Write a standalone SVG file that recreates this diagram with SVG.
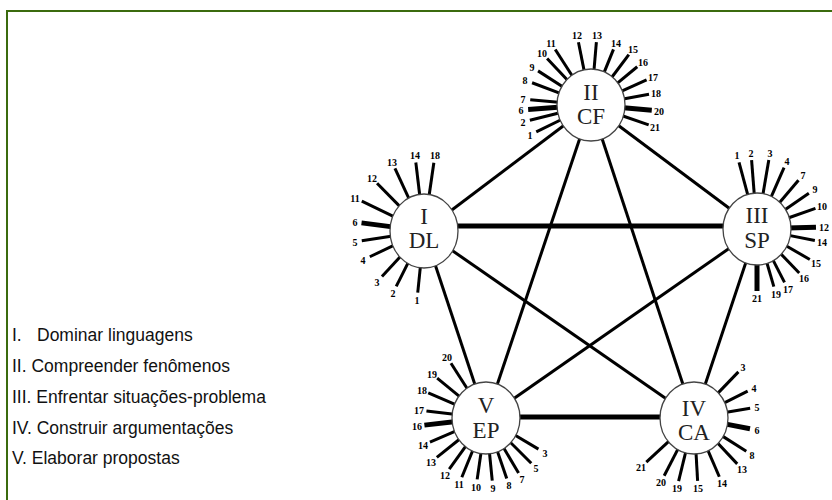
<svg xmlns="http://www.w3.org/2000/svg" width="832" height="500" viewBox="0 0 832 500">
<style>
.frame{fill:none;stroke:#3b6b0e;stroke-width:2}
.conn line{stroke:#000;stroke-width:3;stroke-linecap:butt}
.conn line.thick{stroke-width:5}
.spk line{stroke:#000;stroke-width:3}
.spk line.t{stroke-width:5}
.ring{fill:#fff;stroke:#444;stroke-width:1.3}
.num,.abbr{font-family:"Liberation Serif","Times New Roman",serif;font-size:23px;fill:#222;text-anchor:middle}
.lbl{font-family:"Liberation Serif","Times New Roman",serif;font-size:10px;font-weight:bold;fill:#000;text-anchor:middle;dominant-baseline:central}
.leg{font-family:"Liberation Sans",Arial,sans-serif;font-size:17.5px;fill:#111}
</style>
<rect width="832" height="500" fill="#fff"/>
<path class="frame" d="M7,501 V11 H833"/>

<g id="legend">
<text class="leg" x="12" y="341">I.</text>
<text class="leg" x="37" y="341">Dominar linguagens</text>
<text class="leg" x="12" y="372">II. Compreender fenômenos</text>
<text class="leg" x="12" y="403">III. Enfrentar situações-problema</text>
<text class="leg" x="12" y="434">IV. Construir argumentações</text>
<text class="leg" x="12" y="464">V. Elaborar propostas</text>
</g>

<g id="connectors" class="conn">
<line x1="424" y1="231" x2="591" y2="105"/>
<line x1="591" y1="105" x2="757" y2="229"/>
<line class="thick" x1="424" y1="226" x2="757" y2="226"/>
<line x1="424" y1="231" x2="486" y2="418"/>
<line x1="424" y1="231" x2="694" y2="418"/>
<line x1="591" y1="105" x2="486" y2="418"/>
<line x1="591" y1="105" x2="694" y2="418"/>
<line x1="757" y1="229" x2="486" y2="418"/>
<line x1="757" y1="229" x2="694" y2="418"/>
<line class="thick" x1="486" y1="417" x2="694" y2="417"/>
</g>

<g id="node-cf" transform="translate(591,105)">
<g class="spk">
<line x1="30" x2="61" transform="rotate(153.8)"/>
<line x1="30" x2="63" transform="rotate(166)"/>
<line class="t" x1="30" x2="63" transform="rotate(176)"/>
<line x1="30" x2="61" transform="rotate(185)"/>
<line x1="30" x2="63" transform="rotate(200.7)"/>
<line x1="30" x2="63" transform="rotate(212.8)"/>
<line x1="30" x2="64" transform="rotate(226.7)"/>
<line x1="30" x2="66" transform="rotate(237.2)"/>
<line x1="30" x2="64" transform="rotate(258.7)"/>
<line x1="30" x2="63" transform="rotate(274.9)"/>
<line x1="30" x2="60" transform="rotate(292)"/>
<line x1="30" x2="63" transform="rotate(306.9)"/>
<line x1="30" x2="60" transform="rotate(320.4)"/>
<line x1="30" x2="61" transform="rotate(335.7)"/>
<line x1="30" x2="59" transform="rotate(349.5)"/>
<line class="t" x1="30" x2="61" transform="rotate(5)"/>
<line x1="30" x2="61" transform="rotate(19)"/>
</g>
<ellipse class="ring" rx="34" ry="36"/>
<text class="num" y="-5">II</text>
<text class="abbr" y="19">CF</text>
<text class="lbl" x="-61" y="30">1</text>
<text class="lbl" x="-68" y="17">2</text>
<text class="lbl" x="-70" y="5">6</text>
<text class="lbl" x="-68" y="-6">7</text>
<text class="lbl" x="-66" y="-25">8</text>
<text class="lbl" x="-59" y="-38">9</text>
<text class="lbl" x="-49" y="-52">10</text>
<text class="lbl" x="-40" y="-62">11</text>
<text class="lbl" x="-14" y="-70">12</text>
<text class="lbl" x="6" y="-70">13</text>
<text class="lbl" x="25" y="-62">14</text>
<text class="lbl" x="42" y="-56">15</text>
<text class="lbl" x="52" y="-43">16</text>
<text class="lbl" x="62" y="-28">17</text>
<text class="lbl" x="65" y="-12">18</text>
<text class="lbl" x="68" y="6">20</text>
<text class="lbl" x="64" y="22">21</text>
</g>

<g id="node-dl" transform="translate(424,231)">
<g class="spk">
<line x1="30" x2="69" transform="rotate(263.2)"/>
<line x1="30" x2="69" transform="rotate(278.2)"/>
<line x1="30" x2="69" transform="rotate(245.1)"/>
<line x1="30" x2="67" transform="rotate(225.5)"/>
<line x1="30" x2="69" transform="rotate(205.6)"/>
<line class="t" x1="30" x2="63" transform="rotate(187.4)"/>
<line x1="30" x2="63" transform="rotate(171)"/>
<line x1="30" x2="60" transform="rotate(154.6)"/>
<line x1="30" x2="62" transform="rotate(132.7)"/>
<line x1="30" x2="62" transform="rotate(116.6)"/>
<line x1="30" x2="62" transform="rotate(95.8)"/>
</g>
<ellipse class="ring" rx="34" ry="37"/>
<text class="num" y="-7">I</text>
<text class="abbr" y="17">DL</text>
<text class="lbl" x="-9" y="-76">14</text>
<text class="lbl" x="11" y="-76">18</text>
<text class="lbl" x="-32" y="-69">13</text>
<text class="lbl" x="-52" y="-53">12</text>
<text class="lbl" x="-69" y="-33">11</text>
<text class="lbl" x="-69" y="-9">6</text>
<text class="lbl" x="-69" y="11">5</text>
<text class="lbl" x="-61" y="29">4</text>
<text class="lbl" x="-47" y="51">3</text>
<text class="lbl" x="-31" y="62">2</text>
<text class="lbl" x="-7" y="69">1</text>
</g>

<g id="node-sp" transform="translate(757,229)">
<g class="spk">
<line x1="30" x2="69" transform="rotate(254.9)"/>
<line x1="30" x2="69" transform="rotate(265.5)"/>
<line x1="30" x2="70" transform="rotate(279.7)"/>
<line x1="30" x2="67" transform="rotate(293.8)"/>
<line x1="30" x2="64" transform="rotate(310.4)"/>
<line x1="30" x2="63" transform="rotate(325.4)"/>
<line x1="30" x2="62" transform="rotate(340.5)"/>
<line class="t" x1="30" x2="59" transform="rotate(358.3)"/>
<line x1="30" x2="59" transform="rotate(11.3)"/>
<line x1="30" x2="61" transform="rotate(30)"/>
<line x1="30" x2="61" transform="rotate(46.2)"/>
<line x1="30" x2="60" transform="rotate(62.7)"/>
<line x1="30" x2="60" transform="rotate(73.7)"/>
<line class="t" x1="30" x2="62" transform="rotate(90)"/>
</g>
<ellipse class="ring" rx="34" ry="36"/>
<text class="num" y="-6">III</text>
<text class="abbr" y="19">SP</text>
<text class="lbl" x="-20" y="-74">1</text>
<text class="lbl" x="-6" y="-76">2</text>
<text class="lbl" x="13" y="-76">3</text>
<text class="lbl" x="30" y="-68">4</text>
<text class="lbl" x="46" y="-54">7</text>
<text class="lbl" x="58" y="-40">9</text>
<text class="lbl" x="65" y="-23">10</text>
<text class="lbl" x="67" y="-2">12</text>
<text class="lbl" x="65" y="13">14</text>
<text class="lbl" x="59" y="34">15</text>
<text class="lbl" x="47" y="49">16</text>
<text class="lbl" x="31" y="60">17</text>
<text class="lbl" x="19" y="65">19</text>
<text class="lbl" x="0" y="69">21</text>
</g>

<g id="node-ep" transform="translate(486,418)">
<g class="spk">
<line x1="30" x2="65" transform="rotate(237.4)"/>
<line x1="30" x2="63" transform="rotate(219.2)"/>
<line x1="30" x2="63" transform="rotate(203.6)"/>
<line x1="30" x2="60" transform="rotate(186.8)"/>
<line class="t" x1="30" x2="62" transform="rotate(173.4)"/>
<line x1="30" x2="61" transform="rotate(156.8)"/>
<line x1="30" x2="63" transform="rotate(141.3)"/>
<line x1="30" x2="63" transform="rotate(125.7)"/>
<line x1="30" x2="64" transform="rotate(112.2)"/>
<line x1="30" x2="62" transform="rotate(98.2)"/>
<line x1="30" x2="63" transform="rotate(84.3)"/>
<line x1="30" x2="64" transform="rotate(71.1)"/>
<line x1="30" x2="64" transform="rotate(59.4)"/>
<line x1="30" x2="64" transform="rotate(45)"/>
<line x1="30" x2="61" transform="rotate(30.7)"/>
</g>
<ellipse class="ring" rx="34" ry="36"/>
<text class="num" y="-5">V</text>
<text class="abbr" y="20">EP</text>
<text class="lbl" x="-39" y="-61">20</text>
<text class="lbl" x="-54" y="-44">19</text>
<text class="lbl" x="-64" y="-28">18</text>
<text class="lbl" x="-67" y="-8">17</text>
<text class="lbl" x="-69" y="8">16</text>
<text class="lbl" x="-63" y="27">14</text>
<text class="lbl" x="-55" y="44">13</text>
<text class="lbl" x="-41" y="57">12</text>
<text class="lbl" x="-27" y="66">11</text>
<text class="lbl" x="-10" y="69">10</text>
<text class="lbl" x="7" y="70">9</text>
<text class="lbl" x="23" y="67">8</text>
<text class="lbl" x="36" y="61">7</text>
<text class="lbl" x="50" y="50">5</text>
<text class="lbl" x="59" y="35">3</text>
</g>

<g id="node-ca" transform="translate(694,418)">
<g class="spk">
<line x1="30" x2="64" transform="rotate(313.9)"/>
<line x1="30" x2="60" transform="rotate(333.4)"/>
<line x1="30" x2="57" transform="rotate(350.1)"/>
<line class="t" x1="30" x2="57" transform="rotate(10.8)"/>
<line x1="30" x2="62" transform="rotate(32.5)"/>
<line x1="30" x2="63" transform="rotate(46.7)"/>
<line x1="30" x2="64" transform="rotate(66.7)"/>
<line x1="30" x2="63" transform="rotate(86.7)"/>
<line x1="30" x2="65" transform="rotate(103.7)"/>
<line x1="30" x2="65" transform="rotate(117.3)"/>
<line x1="30" x2="65" transform="rotate(137.2)"/>
</g>
<ellipse class="ring" rx="34" ry="36"/>
<text class="num" y="-2">IV</text>
<text class="abbr" y="22">CA</text>
<text class="lbl" x="49" y="-51">3</text>
<text class="lbl" x="60" y="-30">4</text>
<text class="lbl" x="63" y="-11">5</text>
<text class="lbl" x="63" y="12">6</text>
<text class="lbl" x="58" y="37">8</text>
<text class="lbl" x="48" y="51">13</text>
<text class="lbl" x="28" y="65">14</text>
<text class="lbl" x="4" y="70">15</text>
<text class="lbl" x="-17" y="70">19</text>
<text class="lbl" x="-33" y="64">20</text>
<text class="lbl" x="-53" y="49">21</text>
</g>
</svg>
